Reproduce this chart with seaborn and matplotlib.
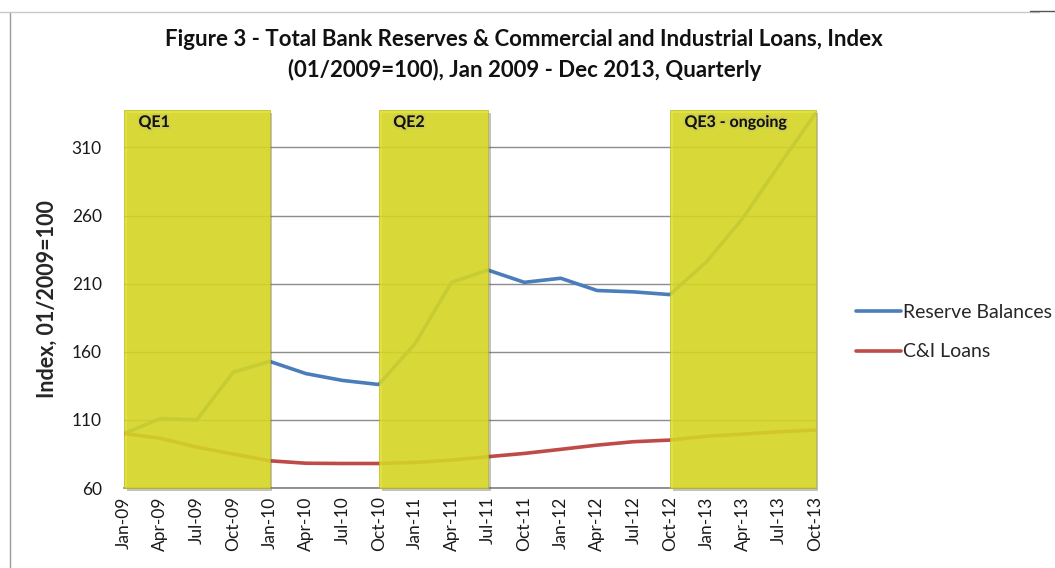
import numpy as np
import pandas as pd
import matplotlib
matplotlib.use("Agg")
import matplotlib.pyplot as plt
import matplotlib.patheffects as pe
from matplotlib.patches import Rectangle
from matplotlib.lines import Line2D
import seaborn as sns

# Quarterly observations, index 01/2009 = 100
quarters = ["Jan-09", "Apr-09", "Jul-09", "Oct-09",
            "Jan-10", "Apr-10", "Jul-10", "Oct-10",
            "Jan-11", "Apr-11", "Jul-11", "Oct-11",
            "Jan-12", "Apr-12", "Jul-12", "Oct-12",
            "Jan-13", "Apr-13", "Jul-13", "Oct-13"]
reserve_balances = [100, 111, 110, 145, 153, 144, 139, 136, 166, 211,
                    220, 211, 214, 205, 204, 202, 226, 258, 297, 335]
ci_loans = [100, 96.5, 90, 85, 80, 78.2, 78, 78, 78.8, 80.5,
            83, 85.4, 88.4, 91.5, 94, 95.2, 98, 99.6, 101.3, 102.5]

# QE programme windows (start quarter, end quarter, label)
qe_starts = ["Jan-09", "Oct-10", "Oct-12"]
qe_ends = ["Jan-10", "Jul-11", "Oct-13"]
qe_labels = ["QE1", "QE2", "QE3 - ongoing"]

series_names = ["Reserve Balances", "C&I Loans"]
series_colors = ["#4a7ebb", "#be4b48"]
y_ticks = [60, 110, 160, 210, 260, 310]

pos = {q: i for i, q in enumerate(quarters)}
df = pd.DataFrame({
    "pos": list(range(len(quarters))) * 2,
    "value": reserve_balances + ci_loans,
    "series": [series_names[0]] * len(quarters) + [series_names[1]] * len(quarters),
})

sns.set_style("white")
plt.rcParams["font.family"] = ["Lato", "DejaVu Sans"]

fig = plt.figure(figsize=(10.55, 5.68), dpi=100)
ax = fig.add_axes([0.1175, 0.1408, 0.6555, 0.6655])

sns.lineplot(data=df, x="pos", y="value", hue="series",
             palette=dict(zip(series_names, series_colors)),
             linewidth=2.6, legend=False, ax=ax, zorder=3)

ax.set_xlim(0, len(quarters) - 1)
ax.set_ylim(60, 337.5)
ax.set_yticks(y_ticks)
ax.set_xticks(range(len(quarters)))
ax.set_xticklabels(quarters, rotation=90, fontsize=12.5, color="#1a1a1a")
ax.tick_params(axis="y", labelsize=12.5, colors="#1a1a1a", length=0, pad=16)
ax.tick_params(axis="x", length=0, pad=6)
ax.grid(axis="y", color="#8c8c8c", linewidth=1.0, zorder=1)
ax.set_axisbelow(True)
for side in ["top", "right", "left"]:
    ax.spines[side].set_visible(False)
ax.spines["bottom"].set_color("#7f7f7f")
ax.spines["bottom"].set_linewidth(1.2)
ax.set_xlabel("")
ax.set_ylabel("Index, 01/2009=100", fontsize=15.5, fontweight="bold", labelpad=10)

# Shaded QE windows drawn over the series
for start, end, lab in zip(qe_starts, qe_ends, qe_labels):
    x0, x1 = pos[start], pos[end]
    rect = Rectangle((x0, 60), x1 - x0, 337.5 - 60, facecolor="#dcdc22",
                     alpha=0.86, edgecolor="#b8b820", linewidth=0.6,
                     zorder=4, clip_on=False)
    rect.set_path_effects([pe.SimplePatchShadow(offset=(2, -2), shadow_rgbFace="#555555",
                                                alpha=0.35), pe.Normal()])
    ax.add_patch(rect)
    ax.text(x0 + 0.4, 328, lab, fontsize=11.5, fontweight="bold", color="#111111",
            ha="left", va="center", zorder=5,
            path_effects=[pe.withStroke(linewidth=3, foreground="#c8c85a", alpha=0.5)])

fig.text(0.497, 0.930, "Figure 3 - Total Bank Reserves & Commercial and Industrial Loans, Index",
         ha="center", va="center", fontsize=16, fontweight="bold", color="#111111")
fig.text(0.497, 0.877, "(01/2009=100), Jan 2009 - Dec 2013, Quarterly",
         ha="center", va="center", fontsize=16, fontweight="bold", color="#111111")

handles = [Line2D([0], [0], color=c, linewidth=2.6) for c in series_colors]
fig.legend(handles, series_names, loc="center left", bbox_to_anchor=(0.795, 0.415),
           frameon=False, fontsize=14, handlelength=2.3, handletextpad=0.1,
           labelspacing=1.15)

# Outer chart border
fig.add_artist(Line2D([0.0095, 0.0095], [0.0, 0.978], color="#9a9a9a", linewidth=1.0,
                      transform=fig.transFigure))
fig.add_artist(Line2D([0.0, 0.985], [0.978, 0.978], color="#c8c8c8", linewidth=1.0,
                      transform=fig.transFigure))
fig.add_artist(Line2D([0.976, 1.0], [0.980, 0.980], color="#555555", linewidth=1.0,
                      transform=fig.transFigure))

fig.savefig("out.png", dpi=100)
